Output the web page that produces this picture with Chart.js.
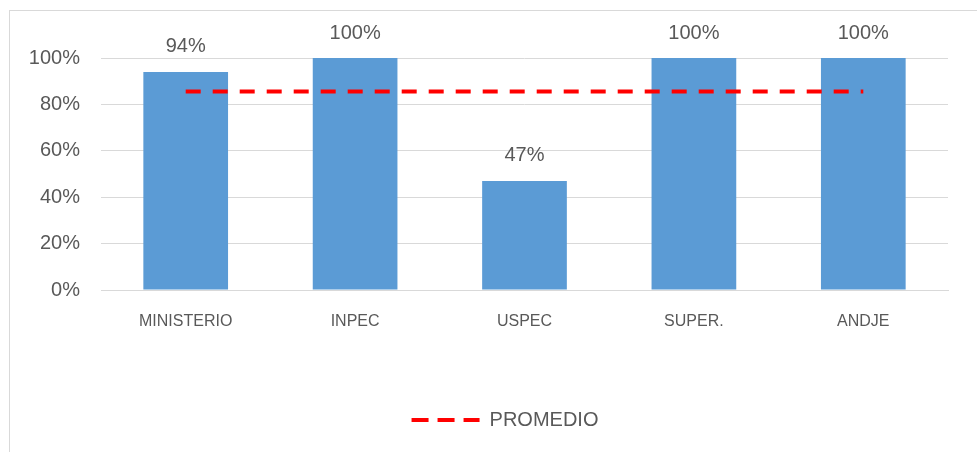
<!DOCTYPE html>
<html>
<head>
<meta charset="utf-8">
<script src="https://cdn.jsdelivr.net/npm/chart.js@4/dist/chart.umd.min.js"></script>
<style>
    html, body { margin: 0; padding: 0; background: #ffffff; }
    #wrap { position: relative; width: 977px; height: 452px; overflow: hidden; }
    #frame {
        position: absolute; left: 9px; top: 10px; width: 1000px; height: 500px;
        border-left: 1px solid #d9d9d9; border-top: 1px solid #d9d9d9;
    }
    #chart { position: absolute; left: 0; top: 0; }
</style>
</head>
<body>
<div id="wrap">
    <div id="frame"></div>
    <canvas id="chart" width="977" height="452"></canvas>
</div>
<script>
// =====================================
// Data
// =====================================

const categories = ["MINISTERIO", "INPEC", "USPEC", "SUPER.", "ANDJE"];
const cumplimiento = [94, 100, 47, 100, 100];
const promedio = [85.6, 85.6, 85.6, 85.6, 85.6];
const yTicks = [0, 20, 40, 60, 80, 100];

const textColor = "#595959";
const fontFamily = "'Liberation Sans', Arial, sans-serif";

// =====================================
// Value labels above bars
// =====================================

const barLabels = {
    id: "barLabels",
    afterLayout(chart) {
        // legend sits a bit right of centre in the original
        chart.legend.left += 31;
        chart.legend.right += 31;
    },
    afterDatasetsDraw(chart) {
        const ctx = chart.ctx;
        const meta = chart.getDatasetMeta(1);
        ctx.save();
        ctx.font = "20px " + fontFamily;
        ctx.fillStyle = textColor;
        ctx.textAlign = "center";
        ctx.textBaseline = "middle";
        meta.data.forEach(function (bar, i) {
            ctx.fillText(cumplimiento[i] + "%", bar.x, bar.y - 25);
        });
        ctx.restore();
    }
};

// =====================================
// Chart
// =====================================

new Chart(document.getElementById("chart"), {
    data: {
        labels: categories,
        datasets: [{
            type: "line",
            label: "PROMEDIO",
            data: promedio,
            borderColor: "#ff0000",
            borderWidth: 4,
            borderDash: [15, 12],
            pointRadius: 0,
            fill: false,
            order: 0
        }, {
            type: "bar",
            label: "CUMPLIMIENTO",
            data: cumplimiento,
            backgroundColor: "#5b9bd5",
            barPercentage: 0.5,
            categoryPercentage: 1,
            order: 1
        }]
    },
    options: {
        responsive: false,
        animation: false,
        layout: {
            padding: { top: 58, right: 29, bottom: 12, left: 0 }
        },
        plugins: {
            tooltip: { enabled: false },
            legend: {
                position: "bottom",
                labels: {
                    usePointStyle: true,
                    pointStyle: "line",
                    pointStyleWidth: 68,
                    color: textColor,
                    font: { family: fontFamily, size: 20 },
                    padding: 8,
                    generateLabels: function (chart) {
                        const items = Chart.defaults.plugins.legend.labels.generateLabels(chart);
                        return items
                            .filter(function (item) { return item.text === "PROMEDIO"; })
                            .map(function (item) {
                                item.lineDash = [17, 9];
                                item.lineWidth = 4;
                                item.strokeStyle = "#ff0000";
                                return item;
                            });
                    }
                }
            }
        },
        scales: {
            x: {
                grid: { display: false, drawTicks: false },
                border: { color: "#d9d9d9" },
                ticks: {
                    color: textColor,
                    font: { family: fontFamily, size: 16 },
                    padding: 22
                },
                afterFit: function (scale) { scale.height = 112; }
            },
            y: {
                min: 0,
                max: 100,
                afterBuildTicks: function (scale) {
                    scale.ticks = yTicks.map(function (v) { return { value: v }; });
                },
                grid: { color: "#d9d9d9", drawTicks: false },
                border: { display: false },
                ticks: {
                    color: textColor,
                    font: { family: fontFamily, size: 20 },
                    padding: 21,
                    callback: function (v) { return v + "%"; }
                },
                afterFit: function (scale) { scale.width = 101; }
            }
        }
    },
    plugins: [barLabels]
});
</script>
</body>
</html>
